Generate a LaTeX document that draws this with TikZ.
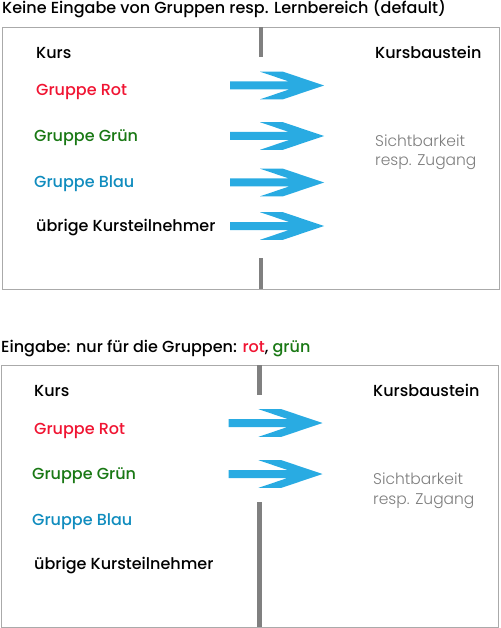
\documentclass[tikz,border=0pt]{standalone}
\usepackage{fontspec}
\setmainfont{Poppins Medium}
\newfontfamily\lightfont{Poppins Light}
\definecolor{boxgray}{RGB}{170,170,170}
\definecolor{bargray}{RGB}{128,128,128}
\definecolor{arrowblue}{RGB}{41,171,226}
\definecolor{grred}{RGB}{240,20,50}
\definecolor{grgreen}{RGB}{25,120,20}
\definecolor{grblue}{RGB}{16,140,190}
\definecolor{softgray}{RGB}{125,125,125}
\tikzset{
  x=1pt,y=-1pt,
  titletext/.style={anchor=base west,inner sep=0pt,font=\fontsize{16}{18}\selectfont},
  bodytext/.style={anchor=base west,inner sep=0pt,font=\fontsize{16}{18}\selectfont},
  softtext/.style={anchor=base west,inner sep=0pt,text=softgray,font=\lightfont\fontsize{15.5}{19.5}\selectfont,align=left},
  panel/.style={draw=boxgray,line width=1pt},
  sepbar/.style={draw=bargray,line width=4.5pt},
  bigarrow/.pic={\fill[arrowblue] (0,-4) -- (59.1,-4) -- (30,-13.8) -- (53,-13.8) -- (94,0) -- (53,13.8) -- (30,13.8) -- (59.1,4) -- (0,4) -- cycle;}
}
\begin{document}
\begin{tikzpicture}
\useasboundingbox (0,0) rectangle (500,628);
% ---------- panel 1 ----------
\node[titletext] (t1) at (2,14) {Keine Eingabe von Gruppen resp. Lernbereich (default)};
\node[panel,minimum width=497.3pt,minimum height=262pt,anchor=north west,inner sep=0pt] (box1) at (1.7,27.3) {};
\coordinate (b1a) at (261,27.3);
\coordinate (b1b) at (261,57);
\coordinate (b1c) at (261,258);
\coordinate (b1d) at (261,289.3);
\draw[sepbar] (b1a) -- (b1b);
\draw[sepbar] (b1c) -- (b1d);
\node[bodytext] (kurs1) at (36,58.3) {Kurs};
\node[bodytext] (kb1) at (375,58.3) {Kursbaustein};
\node[bodytext,text=grred] (rot1) at (36,96) {Gruppe Rot};
\node[bodytext,text=grgreen] (gruen1) at (34,141.7) {Gruppe Grün};
\node[bodytext,text=grblue] (blau1) at (34,187.3) {Gruppe Blau};
\node[bodytext] (ub1) at (36,231.7) {übrige Kursteilnehmer};
\node[softtext] (s1) at (375,166) {Sichtbarkeit\\resp. Zugang};
\pic at (230,85.5) {bigarrow};
\pic at (230,136) {bigarrow};
\pic at (230,182.5) {bigarrow};
\pic at (230,226) {bigarrow};
% ---------- panel 2 ----------
\node[titletext] (t2) at (1,352) {Eingabe: nur für die Gruppen: \textcolor{grred}{rot}, \textcolor{grgreen}{grün}};
\node[panel,minimum width=497pt,minimum height=262pt,anchor=north west,inner sep=0pt] (box2) at (1,365) {};
\coordinate (b2a) at (259.3,365);
\coordinate (b2b) at (259.3,394.5);
\coordinate (b2c) at (259.3,502);
\coordinate (b2d) at (259.3,627);
\draw[sepbar] (b2a) -- (b2b);
\draw[sepbar] (b2c) -- (b2d);
\node[bodytext] (kurs2) at (34,396.5) {Kurs};
\node[bodytext] (kb2) at (373,396.5) {Kursbaustein};
\node[bodytext,text=grred] (rot2) at (34,434) {Gruppe Rot};
\node[bodytext,text=grgreen] (gruen2) at (32,479.5) {Gruppe Grün};
\node[bodytext,text=grblue] (blau2) at (32,525) {Gruppe Blau};
\node[bodytext] (ub2) at (34,569.5) {übrige Kursteilnehmer};
\node[softtext] (s2) at (373,504) {Sichtbarkeit\\resp. Zugang};
\pic at (228.5,423) {bigarrow};
\pic at (228.5,474) {bigarrow};
\end{tikzpicture}
\end{document}
